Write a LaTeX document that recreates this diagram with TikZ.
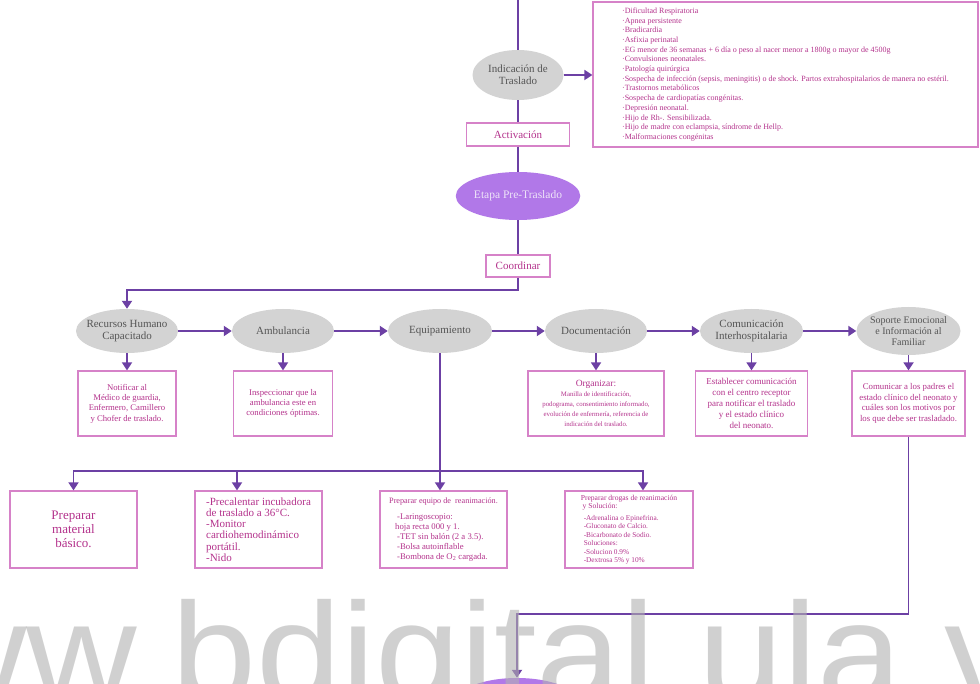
\documentclass[tikz,border=0pt]{standalone}
\usepackage{fontspec}
\setmainfont{Liberation Serif}
\newfontfamily\markfont{Liberation Sans}
\usetikzlibrary{shapes.geometric,arrows.meta}

\definecolor{flowline}{RGB}{108,64,164}
\definecolor{ovalfill}{RGB}{211,211,211}
\definecolor{ovaltext}{RGB}{85,85,85}
\definecolor{stagefill}{RGB}{177,120,232}
\definecolor{stagetext}{RGB}{238,228,248}
\definecolor{boxline}{RGB}{214,130,200}
\definecolor{boxtext}{RGB}{180,50,140}
\definecolor{markgray}{RGB}{178,178,178}

\tikzset{
    flow/.style={draw=flowline, line width=1.8pt},
    flowarrow/.style={flow, -{Triangle[width=10pt,length=8pt]}},
    greyoval/.style={ellipse, fill=ovalfill, text=ovaltext, inner xsep=-6pt, inner ysep=0pt,
        align=center, minimum width=102pt, minimum height=44pt, font=\fontsize{11}{12}\selectfont},
    stageoval/.style={ellipse, fill=stagefill, text=stagetext, inner sep=0pt,
        minimum width=122pt, minimum height=48pt, font=\fontsize{11.5}{13}\selectfont},
    pinkbox/.style={draw=boxline, line width=1.3pt, text=boxtext, inner sep=0pt, align=center},
}

\begin{document}
\begin{tikzpicture}[x=1pt, y=-1pt]
    \useasboundingbox (0,0) rectangle (980,684);
    \clip (0,0) rectangle (980,684);
    \fill[white] (0,0) rectangle (980,684);

    % indicacion y activacion
    \coordinate (start) at (518,0);
    \node[greyoval, minimum width=91pt, minimum height=50pt] (indic) at (518,75) {Indicación de\\Traslado};
    \node[pinkbox, minimum width=103pt, minimum height=23pt, font=\fontsize{11}{12}\selectfont] (activ) at (518,134.5) {Activación};
    \node[stageoval] (etapa) at (518,196) {Etapa Pre-Traslado};
    \node[pinkbox, minimum width=64pt, minimum height=22pt, font=\fontsize{11}{12}\selectfont] (coord) at (518,266) {Coordinar};
    \node[pinkbox, minimum width=385pt, minimum height=145pt, align=left, font=\fontsize{8}{9.7}\selectfont] (criteria) at (785.5,74.5) {%
        ·Dificultad Respiratoria\\
        ·Apnea persistente\\
        ·Bradicardia\\
        ·Asfixia perinatal\\
        ·EG menor de 36 semanas + 6 día o peso al nacer menor a 1800g o mayor de 4500g\\
        ·Convulsiones neonatales.\\
        ·Patología quirúrgica\\
        ·Sospecha de infección (sepsis, meningitis) o de shock. Partos extrahospitalarios de manera no estéril.\\
        ·Trastornos metabólicos\\
        ·Sospecha de cardiopatías congénitas.\\
        ·Depresión neonatal.\\
        ·Hijo de Rh-. Sensibilizada.\\
        ·Hijo de madre con eclampsia, síndrome de Hellp.\\
        ·Malformaciones congénitas};

    \draw[flow] (start) -- (indic) (indic) -- (activ) (activ) -- (etapa) (etapa) -- (coord);
    \draw[flowarrow] (indic.east) -- (indic.east -| criteria.west);

    % fila de etapas
    \node[greyoval] (recursos) at (127,331) {Recursos Humano\\Capacitado};
    \node[greyoval] (ambul) at (283,331) {Ambulancia};
    \node[greyoval, minimum width=104pt] (equipo) at (440,331) {Equipamiento};
    \node[greyoval] (docum) at (596,331) {Documentación};
    \node[greyoval, minimum width=103pt] (comun) at (751.5,331) {Comunicación\\Interhospitalaria};
    \node[greyoval, minimum width=104pt, minimum height=48pt, font=\fontsize{10}{11}\selectfont] (soporte) at (908.5,331) {Soporte Emocional\\e Información al\\Familiar};

    \coordinate (split) at (518,290);
    \draw[flowarrow] (coord) -- (split) -| (recursos);
    \draw[flowarrow] (recursos) -- (ambul);
    \draw[flowarrow] (ambul) -- (equipo);
    \draw[flowarrow] (equipo) -- (docum);
    \draw[flowarrow] (docum) -- (comun);
    \draw[flowarrow] (comun) -- (soporte);

    % tareas
    \node[pinkbox, minimum width=98pt, minimum height=65pt, font=\fontsize{8.7}{10.3}\selectfont] (recbox) at (127,403.5) {Notificar al\\Médico de guardia,\\Enfermero, Camillero\\y Chofer de traslado.};
    \node[pinkbox, minimum width=99pt, minimum height=65pt, font=\fontsize{8.7}{10.3}\selectfont] (ambbox) at (283,403.5) {Inspeccionar que la\\ambulancia este en\\condiciones óptimas.};
    \node[pinkbox, minimum width=136pt, minimum height=65pt, font=\fontsize{6.8}{10}\selectfont] (docbox) at (596,403.5) {{\fontsize{9.5}{10}\selectfont Organizar:}\\Manilla de identificación,\\podograma, consentimiento informado,\\evolución de enfermería, referencia de\\indicación del traslado.};
    \node[pinkbox, minimum width=112pt, minimum height=65pt, font=\fontsize{9}{10.8}\selectfont] (combox) at (751.5,403.5) {Establecer comunicación\\con el centro receptor\\para notificar el traslado\\y el estado clínico\\del neonato.};
    \node[pinkbox, minimum width=113pt, minimum height=65pt, font=\fontsize{8.8}{10.7}\selectfont] (sopbox) at (908.5,403.5) {Comunicar a los padres el\\estado clínico del neonato y\\cuáles son los motivos por\\los que debe ser trasladado.};

    \draw[flowarrow] (recursos) -- (recbox);
    \draw[flowarrow] (ambul) -- (ambbox);
    \draw[flowarrow] (docum) -- (docbox);
    \draw[flowarrow] (comun) -- (combox);
    \draw[flowarrow] (soporte) -- (sopbox);

    % equipamiento
    \node[pinkbox, minimum width=127pt, minimum height=77pt, font=\fontsize{13}{13.7}\selectfont] (basic) at (73.5,529.5) {Preparar\\material\\básico.};
    \node[pinkbox, minimum width=127pt, minimum height=77pt, align=left, font=\fontsize{11}{11.3}\selectfont] (heat) at (258.5,529.5) {-Precalentar incubadora\\de traslado a 36°C.\\-Monitor\\cardiohemodinámico\\portátil.\\-Nido};
    \node[pinkbox, minimum width=127pt, minimum height=77pt, align=left, font=\fontsize{8.7}{10}\selectfont] (resus) at (443.5,529.5) {%
        {\fontsize{8.2}{10}\selectfont Preparar equipo de\ \ reanimación.}\\[6pt]
        \hspace*{8pt}-Laringoscopio:\\
        \hspace*{6pt}hoja recta 000 y 1.\\
        \hspace*{8pt}-TET sin balón (2 a 3.5).\\
        \hspace*{8pt}-Bolsa autoinflable\\
        \hspace*{8pt}-Bombona de O\textsubscript{2} cargada.};
    \node[pinkbox, minimum width=128pt, minimum height=77pt, align=left, font=\fontsize{7.3}{8.4}\selectfont] (drugs) at (629,529.5) {%
        {\fontsize{7.6}{8.4}\selectfont Preparar drogas de reanimación}\\
        {\fontsize{7.6}{8.4}\selectfont \ y Solución:}\\[3.5pt]
        \hspace*{3pt}-Adrenalina o Epinefrina.\\
        \hspace*{3pt}-Gluconato de Calcio.\\
        \hspace*{3pt}-Bicarbonato de Sodio.\\
        \hspace*{3pt}Soluciones:\\
        \hspace*{3pt}-Solucion 0.9\%\\
        \hspace*{3pt}-Dextrosa 5\% y 10\%};

    \coordinate (fork) at (440,471);
    \draw[flow] (equipo) -- (fork);
    \draw[flowarrow] (fork) -| (basic);
    \draw[flowarrow] (fork) -| ([xshift=-21.5pt]heat.north);
    \draw[flowarrow] (fork) -- (fork |- resus.north);
    \draw[flowarrow] (fork) -| ([xshift=14pt]drugs.north);

    % siguiente etapa
    \node[stageoval] (next) at (517,702) {};
    \coordinate (bendC) at (908.5,614);
    \draw[flowarrow] (sopbox) -- (bendC) -| (next);

    % marca de agua
    \node[anchor=base west, inner sep=0pt, text=markgray, text opacity=0.6,
        font=\markfont\fontsize{141}{141}\selectfont] (mark) at (171,701) {\scalebox{1.085}[1]{\llap{www.}bdigital.ula.ve}};
\end{tikzpicture}
\end{document}
